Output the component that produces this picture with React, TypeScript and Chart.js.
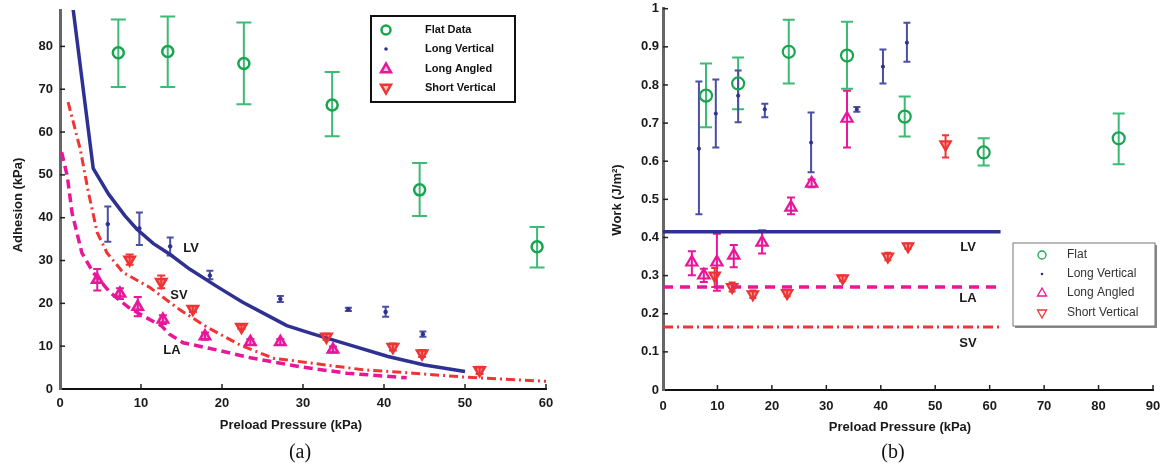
import React, { useEffect, useRef } from 'react';
import { Chart, registerables } from 'chart.js';
Chart.register(...registerables);

type Pt = [number, number, number, number]; // x, y, errLow, errHigh

// ---------- (a) Adhesion ----------
const adhXTicks = [0, 10, 20, 30, 40, 50, 60];
const adhFlat: Pt[] = [
  [7.2, 78.5, 70.5, 86.3], [13.3, 78.8, 70.5, 87.0], [22.7, 76.0, 66.5, 85.6],
  [33.6, 66.3, 59.0, 74.0], [44.4, 46.5, 40.4, 52.8], [58.9, 33.2, 28.4, 37.8],
];
const adhLongVert: Pt[] = [
  [5.9, 38.5, 34.4, 42.6], [9.8, 37.5, 33.6, 41.2], [13.6, 33.3, 31.2, 35.4],
  [18.5, 26.5, 25.6, 27.6], [27.2, 21.0, 20.3, 21.7], [35.6, 18.6, 18.2, 19.0],
  [40.2, 18.0, 16.9, 19.2], [44.8, 12.8, 12.2, 13.4],
];
const adhLongAng: Pt[] = [
  [4.6, 25.5, 23.0, 28.0], [7.4, 22.3, 21.0, 23.5], [9.6, 19.2, 17.0, 21.5],
  [12.7, 16.2, 15.2, 17.2], [17.9, 12.3, 11.5, 13.2], [23.5, 11.0, 10.3, 11.7],
  [27.2, 11.0, 10.3, 11.7], [33.7, 9.2, 8.5, 9.9],
];
const adhShortVert: Pt[] = [
  [8.6, 30.2, 29.0, 31.4], [12.5, 25.0, 23.5, 26.5], [16.4, 18.7, 18.0, 19.4],
  [22.4, 14.5, 14.0, 15.0], [32.9, 12.2, 11.5, 12.9], [41.1, 9.8, 9.0, 10.6],
  [44.7, 8.3, 7.5, 9.1], [51.8, 4.4, 3.5, 5.2],
];
const adhFitLVx = [1.6, 4.1, 6, 8, 9.5, 11.5, 13.6, 16, 19.4, 22.5, 25.5, 28, 31, 35, 40.5, 45, 50];
const adhFitLVy = [89, 51.5, 45.5, 40.5, 37.3, 34, 31.4, 28, 23.9, 20.3, 17.3, 14.8, 13, 10.7, 7.6, 5.6, 4.1];
const adhFitSVx = [1.0, 2.5, 3.5, 4.6, 5.8, 7.8, 11.1, 14.8, 18.1, 22.2, 26.3, 31.2, 37.4, 43.6, 49.8, 60];
const adhFitSVy = [67, 56, 46, 36.5, 31.8, 27.2, 23.7, 18.5, 14.5, 10.3, 7.2, 6.0, 4.5, 3.7, 2.8, 1.8];
const adhFitLAx = [0.2, 0.9, 1.5, 2.7, 4.1, 6.2, 8.5, 11.1, 12.5, 13.5, 15.2, 19.4, 23.5, 29.6, 35.4, 42.8];
const adhFitLAy = [55.3, 49.7, 41, 31.8, 27.2, 22.5, 19, 16.2, 14.8, 12.8, 10.8, 9.1, 7.3, 5.2, 3.7, 2.6];

// ---------- (b) Work ----------
const workFlat: Pt[] = [
  [7.9, 0.772, 0.689, 0.856], [13.8, 0.804, 0.736, 0.872], [23.1, 0.887, 0.804, 0.971],
  [33.8, 0.877, 0.790, 0.966], [44.4, 0.717, 0.665, 0.770], [58.9, 0.623, 0.589, 0.660],
  [83.7, 0.660, 0.592, 0.725],
];
const workLongVert: Pt[] = [
  [6.6, 0.633, 0.461, 0.809], [9.7, 0.725, 0.636, 0.814], [13.8, 0.772, 0.702, 0.838],
  [18.7, 0.736, 0.715, 0.751], [27.2, 0.649, 0.571, 0.728], [35.6, 0.736, 0.730, 0.742],
  [40.4, 0.848, 0.804, 0.893], [44.8, 0.911, 0.861, 0.963],
];
const workLongAng: Pt[] = [
  [5.3, 0.335, 0.301, 0.364], [7.5, 0.301, 0.283, 0.318], [9.9, 0.335, 0.26, 0.41],
  [13.0, 0.353, 0.322, 0.380], [18.2, 0.387, 0.358, 0.419], [23.5, 0.479, 0.461, 0.505],
  [27.3, 0.542, 0.532, 0.552], [33.8, 0.712, 0.636, 0.785],
];
const workShortVert: Pt[] = [
  [9.5, 0.30, 0.27, 0.32], [12.7, 0.27, 0.258, 0.282], [16.5, 0.251, 0.241, 0.261],
  [22.8, 0.254, 0.246, 0.262], [33.0, 0.293, 0.286, 0.300], [41.3, 0.350, 0.340, 0.360],
  [45.0, 0.377, 0.370, 0.384], [51.9, 0.644, 0.610, 0.668],
];
const workFitX = [0, 62];
const workFitLV = [0.415, 0.415];
const workFitLA = [0.27, 0.27];
const workFitSV = [0.165, 0.165];

const GREEN = '#17a54f';
const GREEN_ERR = '#3dba74';
const NAVY = '#2e3192';
const NAVY_ERR = '#4a4fa0';
const MAGENTA = '#e8179a';
const RED = '#ee3535';

const toPts = (a: Pt[]) => a.map((p) => ({ x: p[0], y: p[1] }));
const linePts = (xs: number[], ys: number[]) => xs.map((x, i) => ({ x, y: ys[i] }));

const errorBarPlugin = {
  id: 'errbars',
  beforeDatasetsDraw(chart: any) {
    const ctx = chart.ctx;
    const xs = chart.scales.x;
    const ys = chart.scales.y;
    chart.data.datasets.forEach((ds: any) => {
      if (!ds.err) return;
      ctx.save();
      ctx.strokeStyle = ds.errColor;
      ctx.lineWidth = ds.errWidth || 2;
      ds.err.forEach((p: Pt) => {
        const x = xs.getPixelForValue(p[0]);
        const lo = ys.getPixelForValue(p[2]);
        const hi = ys.getPixelForValue(p[3]);
        const c = ds.errCap / 2;
        ctx.beginPath();
        ctx.moveTo(x, lo); ctx.lineTo(x, hi);
        ctx.moveTo(x - c, lo); ctx.lineTo(x + c, lo);
        ctx.moveTo(x - c, hi); ctx.lineTo(x + c, hi);
        ctx.stroke();
      });
      ctx.restore();
    });
  },
};

function drawMarker(ctx: CanvasRenderingContext2D, kind: string, x: number, y: number, r: number, color: string, fill: string, lw: number) {
  ctx.save();
  ctx.strokeStyle = color;
  ctx.fillStyle = fill;
  ctx.lineWidth = lw;
  ctx.beginPath();
  if (kind === 'circle') {
    ctx.arc(x, y, r, 0, Math.PI * 2);
  } else if (kind === 'dot') {
    ctx.arc(x, y, r, 0, Math.PI * 2);
    ctx.fillStyle = color;
  } else if (kind === 'up') {
    ctx.moveTo(x, y - r); ctx.lineTo(x + r * 0.9, y + r * 0.6); ctx.lineTo(x - r * 0.9, y + r * 0.6); ctx.closePath();
  } else {
    ctx.moveTo(x, y + r); ctx.lineTo(x + r * 0.9, y - r * 0.6); ctx.lineTo(x - r * 0.9, y - r * 0.6); ctx.closePath();
  }
  ctx.fill();
  if (kind !== 'dot') ctx.stroke();
  ctx.restore();
}

type TextItem = { t: string; x: number; y: number; font: string; color?: string; rot?: boolean };
type LegendCfg = {
  box: [number, number, number, number];
  border: string; borderW: number; shadow: boolean;
  mx: number; tx: number; rows: number[]; font: string; color: string;
  items: { label: string; kind: string; color: string; fill: string; r: number; lw: number }[];
};

function makeDecor(texts: TextItem[], legend: LegendCfg) {
  return {
    id: 'decor',
    afterDraw(chart: any) {
      const ctx: CanvasRenderingContext2D = chart.ctx;
      const xs = chart.scales.x;
      const ys = chart.scales.y;
      const area = chart.chartArea;
      ctx.save();
      // inner tick marks
      ctx.strokeStyle = '#222';
      ctx.lineWidth = 1.5;
      xs.ticks.forEach((tk: any) => {
        const px = xs.getPixelForValue(tk.value);
        if (px <= area.left + 2) return;
        ctx.beginPath(); ctx.moveTo(px, area.bottom); ctx.lineTo(px, area.bottom - 5); ctx.stroke();
      });
      ys.ticks.forEach((tk: any) => {
        const py = ys.getPixelForValue(tk.value);
        if (py >= area.bottom - 2) return;
        ctx.beginPath(); ctx.moveTo(area.left, py); ctx.lineTo(area.left + 5, py); ctx.stroke();
      });
      // texts
      texts.forEach((it) => {
        ctx.save();
        ctx.font = it.font;
        ctx.fillStyle = it.color || '#1a1a1a';
        ctx.textAlign = 'center';
        ctx.textBaseline = 'middle';
        if (it.rot) {
          ctx.translate(it.x, it.y);
          ctx.rotate(-Math.PI / 2);
          ctx.fillText(it.t, 0, 0);
        } else {
          ctx.fillText(it.t, it.x, it.y);
        }
        ctx.restore();
      });
      // legend
      const [x0, y0, x1, y1] = legend.box;
      if (legend.shadow) {
        ctx.fillStyle = '#888';
        ctx.fillRect(x0 + 2, y0 + 2, x1 - x0, y1 - y0);
      }
      ctx.fillStyle = '#fff';
      ctx.fillRect(x0, y0, x1 - x0, y1 - y0);
      ctx.strokeStyle = legend.border;
      ctx.lineWidth = legend.borderW;
      ctx.strokeRect(x0, y0, x1 - x0, y1 - y0);
      legend.items.forEach((item, i) => {
        const y = legend.rows[i];
        drawMarker(ctx, item.kind, legend.mx, y, item.r, item.color, item.fill, item.lw);
        ctx.font = legend.font;
        ctx.fillStyle = legend.color;
        ctx.textAlign = 'left';
        ctx.textBaseline = 'middle';
        ctx.fillText(item.label, legend.tx, y);
      });
      ctx.restore();
    },
  };
}

const TICK_FONT = { family: 'Liberation Sans', size: 13, weight: 'bold' as const };
const LABEL_FONT = 'bold 13px "Liberation Sans"';
const CURVE_FONT = 'bold 13px "Liberation Sans"';
const CAP_FONT = '20px "Liberation Serif"';

const fixY = (w: number) => (s: any) => { s.width = w; s.paddingTop = 0; s.paddingBottom = 0; };
const fixX = (h: number) => (s: any) => { s.height = h; s.paddingLeft = 0; s.paddingRight = 0; };

function buildAdhesion(canvas: HTMLCanvasElement) {
  const texts: TextItem[] = [
    { t: 'Adhesion (kPa)', x: 18, y: 205, font: LABEL_FONT, rot: true },
    { t: 'Preload Pressure (kPa)', x: 291, y: 425, font: LABEL_FONT },
    { t: '(a)', x: 300, y: 453, font: CAP_FONT, color: '#111' },
    { t: 'LV', x: 191, y: 248, font: CURVE_FONT },
    { t: 'SV', x: 179, y: 295, font: CURVE_FONT },
    { t: 'LA', x: 172, y: 350, font: CURVE_FONT },
  ];
  const legend: LegendCfg = {
    box: [371, 16, 515, 102], border: '#111', borderW: 2, shadow: false,
    mx: 386, tx: 425, rows: [30, 49, 69, 88], font: 'bold 11px "Liberation Sans"', color: '#111',
    items: [
      { label: 'Flat Data', kind: 'circle', color: GREEN, fill: 'rgba(0,0,0,0)', r: 4.5, lw: 2.5 },
      { label: 'Long Vertical', kind: 'dot', color: NAVY, fill: NAVY, r: 1.8, lw: 1 },
      { label: 'Long Angled', kind: 'up', color: MAGENTA, fill: 'rgba(232,23,154,0.25)', r: 5.5, lw: 2.5 },
      { label: 'Short Vertical', kind: 'down', color: RED, fill: 'rgba(238,53,53,0.3)', r: 5.5, lw: 2.5 },
    ],
  };
  return new Chart(canvas, {
    type: 'scatter',
    data: {
      datasets: [
        { label: 'Flat Data', data: toPts(adhFlat), err: adhFlat, errColor: GREEN_ERR, errCap: 15, errWidth: 2,
          pointStyle: 'circle', pointRadius: 5.5, borderColor: GREEN, backgroundColor: 'rgba(0,0,0,0)', borderWidth: 2.5 } as any,
        { label: 'Long Vertical', data: toPts(adhLongVert), err: adhLongVert, errColor: NAVY_ERR, errCap: 7, errWidth: 2,
          pointStyle: 'circle', pointRadius: 1.8, borderColor: NAVY, backgroundColor: NAVY, borderWidth: 1 } as any,
        { label: 'Long Angled', data: toPts(adhLongAng), err: adhLongAng, errColor: MAGENTA, errCap: 8, errWidth: 2,
          pointStyle: 'triangle', pointRadius: 6, borderColor: MAGENTA, backgroundColor: 'rgba(232,23,154,0.35)', borderWidth: 2.5 } as any,
        { label: 'Short Vertical', data: toPts(adhShortVert), err: adhShortVert, errColor: RED, errCap: 8, errWidth: 2,
          pointStyle: 'triangle', rotation: 180, pointRadius: 6, borderColor: RED, backgroundColor: 'rgba(238,53,53,0.55)', borderWidth: 2.5 } as any,
        { label: 'LV fit', data: linePts(adhFitLVx, adhFitLVy), showLine: true, pointRadius: 0, borderColor: NAVY, borderWidth: 3.5 } as any,
        { label: 'SV fit', data: linePts(adhFitSVx, adhFitSVy), showLine: true, pointRadius: 0, borderColor: RED, borderWidth: 3, borderDash: [9, 4, 2, 4] } as any,
        { label: 'LA fit', data: linePts(adhFitLAx, adhFitLAy), showLine: true, pointRadius: 0, borderColor: MAGENTA, borderWidth: 3.5, borderDash: [9, 5] } as any,
      ],
    },
    options: {
      animation: false,
      responsive: false,
      layout: { padding: { top: 10, right: 54, left: 0, bottom: 0 } },
      plugins: { legend: { display: false }, tooltip: { enabled: false } },
      scales: {
        x: {
          type: 'linear', min: 0, max: 60,
          afterBuildTicks: (s: any) => { s.ticks = adhXTicks.map((v) => ({ value: v })); },
          ticks: { font: TICK_FONT, color: '#1a1a1a', padding: 7, maxRotation: 0, includeBounds: false },
          grid: { display: false, drawTicks: false },
          border: { color: '#111', width: 2 },
          afterFit: fixX(83),
        },
        y: {
          type: 'linear', min: 0, max: 88.5,
          ticks: { stepSize: 10, font: TICK_FONT, color: '#1a1a1a', padding: 7, includeBounds: false },
          grid: { display: false, drawTicks: false },
          border: { color: '#666', width: 3 },
          afterFit: fixY(60),
        },
      },
    },
    plugins: [errorBarPlugin, makeDecor(texts, legend)],
  } as any);
}

function buildWork(canvas: HTMLCanvasElement) {
  const texts: TextItem[] = [
    { t: 'Work (J/m²)', x: 17, y: 200, font: LABEL_FONT, rot: true },
    { t: 'Preload Pressure (kPa)', x: 300, y: 427, font: LABEL_FONT },
    { t: '(b)', x: 293, y: 453, font: CAP_FONT, color: '#111' },
    { t: 'LV', x: 368, y: 247, font: CURVE_FONT },
    { t: 'LA', x: 368, y: 298, font: CURVE_FONT },
    { t: 'SV', x: 368, y: 343, font: CURVE_FONT },
  ];
  const legend: LegendCfg = {
    box: [413, 243, 555, 326], border: '#777', borderW: 1, shadow: true,
    mx: 442, tx: 467, rows: [255, 274, 293, 313], font: '12px "Liberation Sans"', color: '#333',
    items: [
      { label: 'Flat', kind: 'circle', color: GREEN, fill: 'rgba(0,0,0,0)', r: 4, lw: 1.3 },
      { label: 'Long Vertical', kind: 'dot', color: NAVY, fill: NAVY, r: 1.3, lw: 1 },
      { label: 'Long Angled', kind: 'up', color: MAGENTA, fill: 'rgba(0,0,0,0)', r: 5, lw: 1.3 },
      { label: 'Short Vertical', kind: 'down', color: RED, fill: 'rgba(0,0,0,0)', r: 5, lw: 1.3 },
    ],
  };
  return new Chart(canvas, {
    type: 'scatter',
    data: {
      datasets: [
        { label: 'Flat', data: toPts(workFlat), err: workFlat, errColor: GREEN_ERR, errCap: 12, errWidth: 2,
          pointStyle: 'circle', pointRadius: 6, borderColor: GREEN, backgroundColor: 'rgba(0,0,0,0)', borderWidth: 2.2 } as any,
        { label: 'Long Vertical', data: toPts(workLongVert), err: workLongVert, errColor: NAVY_ERR, errCap: 7, errWidth: 2,
          pointStyle: 'circle', pointRadius: 1.6, borderColor: NAVY, backgroundColor: NAVY, borderWidth: 1 } as any,
        { label: 'Long Angled', data: toPts(workLongAng), err: workLongAng, errColor: MAGENTA, errCap: 8, errWidth: 2,
          pointStyle: 'triangle', pointRadius: 6.5, borderColor: MAGENTA, backgroundColor: 'rgba(232,23,154,0.12)', borderWidth: 2.2 } as any,
        { label: 'Short Vertical', data: toPts(workShortVert), err: workShortVert, errColor: RED, errCap: 7, errWidth: 2,
          pointStyle: 'triangle', rotation: 180, pointRadius: 6, borderColor: RED, backgroundColor: 'rgba(238,53,53,0.45)', borderWidth: 2.2 } as any,
        { label: 'LV', data: linePts(workFitX, workFitLV), showLine: true, pointRadius: 0, borderColor: NAVY, borderWidth: 3.5 } as any,
        { label: 'LA', data: linePts(workFitX, workFitLA), showLine: true, pointRadius: 0, borderColor: MAGENTA, borderWidth: 3.5, borderDash: [10, 7] } as any,
        { label: 'SV', data: linePts(workFitX, workFitSV), showLine: true, pointRadius: 0, borderColor: RED, borderWidth: 3, borderDash: [10, 4, 2, 4] } as any,
      ],
    },
    options: {
      animation: false,
      responsive: false,
      layout: { padding: { top: 8, right: 18, left: 0, bottom: 0 } },
      plugins: { legend: { display: false }, tooltip: { enabled: false } },
      scales: {
        x: {
          type: 'linear', min: 0, max: 90,
          ticks: { stepSize: 10, font: TICK_FONT, color: '#1a1a1a', padding: 9, maxRotation: 0, includeBounds: false },
          grid: { display: false, drawTicks: false },
          border: { color: '#111', width: 2 },
          afterFit: fixX(82),
        },
        y: {
          type: 'linear', min: 0, max: 1,
          ticks: {
            stepSize: 0.1, font: TICK_FONT, color: '#1a1a1a', padding: 4, includeBounds: false,
            callback: (v: any) => String(Number(Number(v).toFixed(1))),
          },
          grid: { display: false, drawTicks: false },
          border: { color: '#666', width: 3 },
          afterFit: fixY(63),
        },
      },
    },
    plugins: [errorBarPlugin, makeDecor(texts, legend)],
  } as any);
}

export default function App() {
  const leftRef = useRef<HTMLCanvasElement>(null);
  const rightRef = useRef<HTMLCanvasElement>(null);
  useEffect(() => {
    const a = buildAdhesion(leftRef.current!);
    const b = buildWork(rightRef.current!);
    return () => { a.destroy(); b.destroy(); };
  }, []);
  return (
    <div style={{ position: 'absolute', left: 0, top: 0, width: 1171, height: 472, background: '#fff' }}>
      <canvas ref={leftRef} width={600} height={472} style={{ position: 'absolute', left: 0, top: 0, width: 600, height: 472 }} />
      <canvas ref={rightRef} width={571} height={472} style={{ position: 'absolute', left: 600, top: 0, width: 571, height: 472 }} />
    </div>
  );
}
